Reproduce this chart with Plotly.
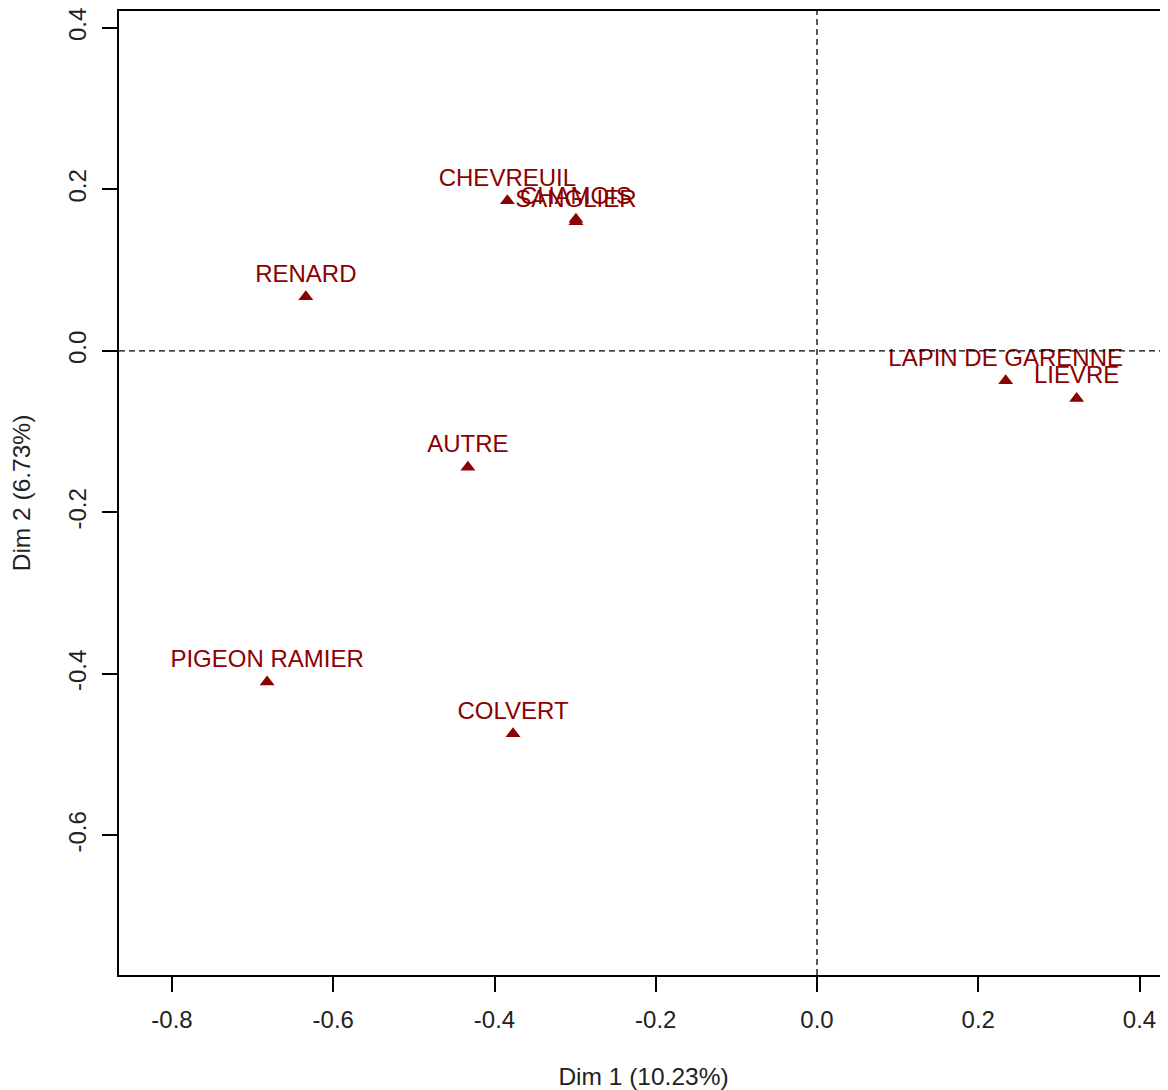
import plotly.graph_objects as go

labels = ["CHEVREUIL", "CHAMOIS", "SANGLIER", "RENARD", "AUTRE",
          "PIGEON RAMIER", "COLVERT", "LAPIN DE GARENNE", "LIEVRE"]
dim1 = [-0.384, -0.299, -0.299, -0.634, -0.433, -0.682, -0.377, 0.234, 0.322]
dim2 = [0.186, 0.163, 0.160, 0.067, -0.144, -0.410, -0.474, -0.037, -0.059]

x_ticks = [-0.8, -0.6, -0.4, -0.2, 0.0, 0.2, 0.4]
x_tick_text = ["-0.8", "-0.6", "-0.4", "-0.2", "0.0", "0.2", "0.4"]
y_ticks = [-0.6, -0.4, -0.2, 0.0, 0.2, 0.4]
y_tick_text = ["-0.6", "-0.4", "-0.2", "0.0", "0.2", "0.4"]

x_title = "Dim 1 (10.23%)"
y_title = "Dim 2 (6.73%)"

red = "#8B0000"
font = "Liberation Sans, Arial, sans-serif"

fig = go.Figure()
fig.add_trace(go.Scatter(
    x=dim1, y=dim2, mode="markers+text", text=labels,
    textposition="top center",
    textfont=dict(family=font, size=24, color=red),
    marker=dict(symbol="triangle-up", size=13, color=red),
    showlegend=False, hoverinfo="text",
))

fig.add_shape(type="line", xref="x", yref="paper", x0=0, x1=0, y0=0, y1=1,
              line=dict(color="black", width=1.3, dash="6px,4px"))
fig.add_shape(type="line", xref="paper", yref="y", x0=0, x1=1, y0=0, y1=0,
              line=dict(color="black", width=1.3, dash="6px,4px"))

fig.update_layout(
    width=1160, height=1082,
    margin=dict(l=111, r=0, t=3, b=111),
    plot_bgcolor="white", paper_bgcolor="white",
    font=dict(family=font, size=24, color="#222222"),
    xaxis=dict(range=[-0.8657, 0.4353], tickvals=x_ticks, ticktext=x_tick_text,
               showgrid=False, zeroline=False, showline=True, mirror=True,
               linecolor="black", linewidth=1.5, ticks="outside", ticklen=15,
               tickcolor="black", tickwidth=1.5, ticklabelstandoff=7,
               ticklabeloverflow="allow",
               title=dict(text=x_title, standoff=40, font=dict(size=24.5))),
    yaxis=dict(range=[-0.7728, 0.4210], tickvals=y_ticks, ticktext=y_tick_text,
               showgrid=False, zeroline=False, showline=True, mirror=False,
               linecolor="black", linewidth=1.5, ticks="outside", ticklen=15,
               tickcolor="black", tickwidth=1.5, tickangle=-90, ticklabelstandoff=7,
               ticklabeloverflow="allow",
               title=dict(text=y_title, standoff=27, font=dict(size=24.5))),
)

fig.write_html("out.html")
